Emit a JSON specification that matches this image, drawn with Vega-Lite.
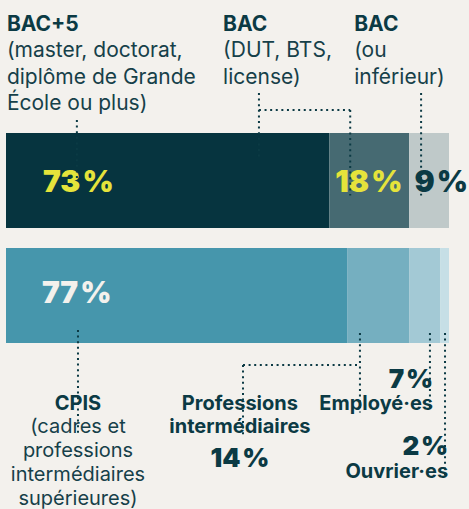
{
  "$schema": "https://vega.github.io/schema/vega-lite/v6.json",
  "width": 469,
  "height": 509,
  "padding": 0,
  "autosize": {"type": "none"},
  "background": "#F3F1ED",
  "config": {"view": {"stroke": null}, "text": {"font": "Inter", "color": "#0B3A44", "baseline": "alphabetic"}},
  "data": {"values": [
    {"row": "Diplôme", "order": 1, "cat": "BAC+5", "title": "BAC+5", "detail": "(master, doctorat,\ndiplôme de Grande\nÉcole ou plus)", "pct": 73, "label": "73\u200a%"},
    {"row": "Diplôme", "order": 2, "cat": "BAC (DUT, BTS, license)", "title": "BAC", "detail": "(DUT, BTS,\nlicense)", "pct": 18, "label": "18\u200a%"},
    {"row": "Diplôme", "order": 3, "cat": "BAC ou inférieur", "title": "BAC", "detail": "(ou\ninférieur)", "pct": 9, "label": "9\u200a%"},
    {"row": "Catégorie", "order": 1, "cat": "CPIS", "title": "CPIS", "detail": "(cadres et\nprofessions\nintermédiaires\nsupérieures)", "pct": 77, "label": "77\u200a%"},
    {"row": "Catégorie", "order": 2, "cat": "Professions intermédiaires", "title": "Professions\nintermédiaires", "detail": "", "pct": 14, "label": "14\u200a%"},
    {"row": "Catégorie", "order": 3, "cat": "Employé·es", "title": "Employé·es", "detail": "", "pct": 7, "label": "7\u200a%"},
    {"row": "Catégorie", "order": 4, "cat": "Ouvrier·es", "title": "Ouvrier·es", "detail": "", "pct": 2, "label": "2\u200a%"}
  ]},
  "layer": [
    {
      "mark": {"type": "bar", "cornerRadius": 0},
      "encoding": {
        "x": {"field": "pct", "type": "quantitative", "stack": "zero", "axis": null,
              "scale": {"domain": [0, 100], "range": [6, 449], "nice": false, "zero": true}},
        "y": {"field": "row", "type": "nominal", "axis": null,
              "scale": {"type": "band", "domain": ["Diplôme", "Catégorie"], "range": [133, 343], "paddingInner": 0.174, "paddingOuter": 0}},
        "order": {"field": "order", "type": "quantitative"},
        "color": {"field": "cat", "type": "nominal", "legend": null,
                  "scale": {"domain": ["BAC+5", "BAC (DUT, BTS, license)", "BAC ou inférieur", "CPIS", "Professions intermédiaires", "Employé·es", "Ouvrier·es"],
                            "range": ["#06343F", "#466A72", "#BFC9C9", "#4696AC", "#75AFC0", "#A3C9D5", "#C6DFE6"]}}
      }
    },
    {
      "transform": [{"filter": "datum.cat == 'BAC+5'"}],
      "layer": [
        {"mark": {"type": "text", "align": "left", "fontSize": 21, "fontWeight": 700, "dy": -102},
         "encoding": {"x": {"datum": 0.2}, "y": {"datum": "Diplôme", "bandPosition": 0}, "text": {"field": "title"}}},
        {"mark": {"type": "text", "align": "left", "fontSize": 21, "fontWeight": 400, "dy": -76, "lineBreak": "\n", "lineHeight": 26.5, "color": "#164049"},
         "encoding": {"x": {"datum": 0.2}, "y": {"datum": "Diplôme", "bandPosition": 0}, "text": {"field": "detail"}}},
        {"mark": {"type": "text", "align": "left", "fontSize": 30, "fontWeight": 900, "dy": 59, "color": "#E5E33B"},
         "encoding": {"x": {"datum": 8.35}, "y": {"datum": "Diplôme", "bandPosition": 0}, "text": {"field": "label"}}},
        {"mark": {"type": "rule", "strokeDash": [2, 3.6], "strokeWidth": 2, "color": "#0B3A44", "yOffset": -13, "y2Offset": -1},
         "encoding": {"x": {"datum": 16.0}, "y": {"datum": "Diplôme", "bandPosition": 0}, "y2": {"datum": "Diplôme"}}}
      ]
    },
    {
      "transform": [{"filter": "datum.cat == 'BAC (DUT, BTS, license)'"}],
      "layer": [
        {"mark": {"type": "text", "align": "left", "fontSize": 21, "fontWeight": 700, "dy": -102},
         "encoding": {"x": {"datum": 49.0}, "y": {"datum": "Diplôme", "bandPosition": 0}, "text": {"field": "title"}}},
        {"mark": {"type": "text", "align": "left", "fontSize": 21, "fontWeight": 400, "dy": -76, "lineBreak": "\n", "lineHeight": 26.5, "color": "#164049"},
         "encoding": {"x": {"datum": 49.0}, "y": {"datum": "Diplôme", "bandPosition": 0}, "text": {"field": "detail"}}},
        {"mark": {"type": "text", "align": "left", "fontSize": 30, "fontWeight": 900, "dy": 59, "color": "#E5E33B"},
         "encoding": {"x": {"datum": 74.3}, "y": {"datum": "Diplôme", "bandPosition": 0}, "text": {"field": "label"}}},
        {"mark": {"type": "rule", "strokeDash": [2, 3.6], "strokeWidth": 2, "color": "#0B3A44", "yOffset": -40, "y2Offset": -23},
         "encoding": {"x": {"datum": 57.1}, "y": {"datum": "Diplôme", "bandPosition": 0}, "y2": {"datum": "Diplôme"}}},
        {"mark": {"type": "rule", "strokeDash": [2, 3.6], "strokeWidth": 2, "color": "#0B3A44", "yOffset": -23},
         "encoding": {"x": {"datum": 57.1}, "x2": {"datum": 77.7}, "y": {"datum": "Diplôme", "bandPosition": 0}}},
        {"mark": {"type": "rule", "strokeDash": [2, 3.6], "strokeWidth": 2, "color": "#0B3A44", "yOffset": -23, "y2Offset": 15},
         "encoding": {"x": {"datum": 77.7}, "y": {"datum": "Diplôme", "bandPosition": 0}, "y2": {"datum": "Diplôme"}}}
      ]
    },
    {
      "transform": [{"filter": "datum.cat == 'BAC ou inférieur'"}],
      "layer": [
        {"mark": {"type": "text", "align": "left", "fontSize": 21, "fontWeight": 700, "dy": -102},
         "encoding": {"x": {"datum": 78.6}, "y": {"datum": "Diplôme", "bandPosition": 0}, "text": {"field": "title"}}},
        {"mark": {"type": "text", "align": "left", "fontSize": 21, "fontWeight": 400, "dy": -76, "lineBreak": "\n", "lineHeight": 26.5, "color": "#164049"},
         "encoding": {"x": {"datum": 78.6}, "y": {"datum": "Diplôme", "bandPosition": 0}, "text": {"field": "detail"}}},
        {"mark": {"type": "text", "align": "left", "fontSize": 30, "fontWeight": 900, "dy": 59, "color": "#0B3A44"},
         "encoding": {"x": {"datum": 92.2}, "y": {"datum": "Diplôme", "bandPosition": 0}, "text": {"field": "label"}}},
        {"mark": {"type": "rule", "strokeDash": [2, 3.6], "strokeWidth": 2, "color": "#0B3A44", "yOffset": -40, "y2Offset": 15},
         "encoding": {"x": {"datum": 93.7}, "y": {"datum": "Diplôme", "bandPosition": 0}, "y2": {"datum": "Diplôme"}}}
      ]
    },
    {
      "transform": [{"filter": "datum.cat == 'CPIS'"}],
      "layer": [
        {"mark": {"type": "text", "align": "left", "fontSize": 30, "fontWeight": 900, "dy": 55, "color": "#F3F1ED"},
         "encoding": {"x": {"datum": 8.1}, "y": {"datum": "Catégorie", "bandPosition": 0}, "text": {"field": "label"}}},
        {"mark": {"type": "rule", "strokeDash": [2, 3.6], "strokeWidth": 2, "color": "#0B3A44", "yOffset": 82, "y2Offset": 139},
         "encoding": {"x": {"datum": 16.25}, "y": {"datum": "Catégorie", "bandPosition": 0}, "y2": {"datum": "Catégorie"}}},
        {"mark": {"type": "text", "align": "center", "fontSize": 20, "fontWeight": 700, "dy": 162},
         "encoding": {"x": {"datum": 16.25}, "y": {"datum": "Catégorie", "bandPosition": 0}, "text": {"field": "title"}}},
        {"mark": {"type": "text", "align": "center", "fontSize": 20, "fontWeight": 400, "dy": 185, "lineBreak": "\n", "lineHeight": 24, "color": "#164049"},
         "encoding": {"x": {"datum": 16.25}, "y": {"datum": "Catégorie", "bandPosition": 0}, "text": {"field": "detail"}}}
      ]
    },
    {
      "transform": [{"filter": "datum.cat == 'Professions intermédiaires'"}],
      "layer": [
        {"mark": {"type": "rule", "strokeDash": [2, 3.6], "strokeWidth": 2, "color": "#0B3A44", "yOffset": 85, "y2Offset": 117},
         "encoding": {"x": {"datum": 79.9}, "y": {"datum": "Catégorie", "bandPosition": 0}, "y2": {"datum": "Catégorie"}}},
        {"mark": {"type": "rule", "strokeDash": [2, 3.6], "strokeWidth": 2, "color": "#0B3A44", "yOffset": 117},
         "encoding": {"x": {"datum": 53.5}, "x2": {"datum": 79.9}, "y": {"datum": "Catégorie", "bandPosition": 0}}},
        {"mark": {"type": "rule", "strokeDash": [2, 3.6], "strokeWidth": 2, "color": "#0B3A44", "yOffset": 117, "y2Offset": 139},
         "encoding": {"x": {"datum": 53.5}, "y": {"datum": "Catégorie", "bandPosition": 0}, "y2": {"datum": "Catégorie"}}},
        {"mark": {"type": "text", "align": "center", "fontSize": 20, "fontWeight": 700, "dy": 162, "lineBreak": "\n", "lineHeight": 23},
         "encoding": {"x": {"datum": 52.8}, "y": {"datum": "Catégorie", "bandPosition": 0}, "text": {"field": "title"}}},
        {"mark": {"type": "text", "align": "center", "fontSize": 26, "fontWeight": 900, "dy": 219},
         "encoding": {"x": {"datum": 52.8}, "y": {"datum": "Catégorie", "bandPosition": 0}, "text": {"field": "label"}}}
      ]
    },
    {
      "transform": [{"filter": "datum.cat == 'Employé·es'"}],
      "layer": [
        {"mark": {"type": "rule", "strokeDash": [2, 3.6], "strokeWidth": 2, "color": "#0B3A44", "yOffset": 85, "y2Offset": 115},
         "encoding": {"x": {"datum": 95.7}, "y": {"datum": "Catégorie", "bandPosition": 0}, "y2": {"datum": "Catégorie"}}},
        {"mark": {"type": "text", "align": "right", "fontSize": 26, "fontWeight": 900, "dy": 140},
         "encoding": {"x": {"datum": 96.4}, "y": {"datum": "Catégorie", "bandPosition": 0}, "text": {"field": "label"}}},
        {"mark": {"type": "text", "align": "right", "fontSize": 20, "fontWeight": 700, "dy": 162},
         "encoding": {"x": {"datum": 96.4}, "y": {"datum": "Catégorie", "bandPosition": 0}, "text": {"field": "title"}}}
      ]
    },
    {
      "transform": [{"filter": "datum.cat == 'Ouvrier·es'"}],
      "layer": [
        {"mark": {"type": "rule", "strokeDash": [2, 3.6], "strokeWidth": 2, "color": "#0B3A44", "yOffset": 85, "y2Offset": 180},
         "encoding": {"x": {"datum": 99.1}, "y": {"datum": "Catégorie", "bandPosition": 0}, "y2": {"datum": "Catégorie"}}},
        {"mark": {"type": "text", "align": "right", "fontSize": 26, "fontWeight": 900, "dy": 207},
         "encoding": {"x": {"datum": 99.8}, "y": {"datum": "Catégorie", "bandPosition": 0}, "text": {"field": "label"}}},
        {"mark": {"type": "text", "align": "right", "fontSize": 20, "fontWeight": 700, "dy": 230},
         "encoding": {"x": {"datum": 99.8}, "y": {"datum": "Catégorie", "bandPosition": 0}, "text": {"field": "title"}}}
      ]
    }
  ]
}
